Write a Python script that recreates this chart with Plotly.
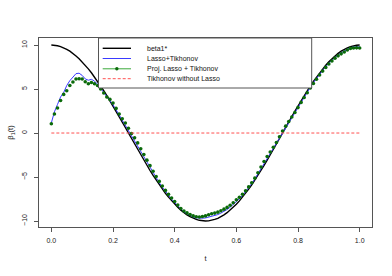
import plotly.graph_objects as go

t = [round(i / 100, 2) for i in range(101)]

beta_true = [10.00, 9.98, 9.92, 9.82, 9.69, 9.51, 9.30, 9.05, 8.76, 8.44,
             8.09, 7.71, 7.29, 6.85, 6.37, 5.88, 5.36, 4.82, 4.26, 3.68,
             3.09, 2.49, 1.87, 1.25, 0.63, 0.00, -0.63, -1.25, -1.87, -2.49,
             -3.09, -3.68, -4.26, -4.82, -5.36, -5.88, -6.37, -6.85, -7.29, -7.71,
             -8.09, -8.44, -8.76, -9.05, -9.30, -9.51, -9.69, -9.82, -9.92, -9.98,
             -10.00, -9.98, -9.92, -9.82, -9.69, -9.51, -9.30, -9.05, -8.76, -8.44,
             -8.09, -7.71, -7.29, -6.85, -6.37, -5.88, -5.36, -4.82, -4.26, -3.68,
             -3.09, -2.49, -1.87, -1.25, -0.63, 0.00, 0.63, 1.25, 1.87, 2.49,
             3.09, 3.68, 4.26, 4.82, 5.36, 5.88, 6.37, 6.85, 7.29, 7.71,
             8.09, 8.44, 8.76, 9.05, 9.30, 9.51, 9.69, 9.82, 9.92, 9.98, 10.00]

lasso_tik = [1.15, 2.40, 3.25, 4.10, 4.60, 5.40, 5.95, 6.40, 6.75, 6.80,
             6.55, 6.15, 6.00, 6.10, 5.90, 5.55, 5.10, 4.65, 4.15, 3.70,
             3.20, 2.65, 2.05, 1.50, 0.95, 0.35, -0.25, -0.85, -1.45, -2.07,
             -2.70, -3.32, -3.93, -4.54, -5.11, -5.65, -6.16, -6.65, -7.10, -7.51,
             -7.91, -8.29, -8.65, -8.94, -9.17, -9.36, -9.53, -9.64, -9.69, -9.68,
             -9.65, -9.56, -9.47, -9.39, -9.27, -9.10, -8.91, -8.69, -8.43, -8.13,
             -7.79, -7.47, -7.09, -6.68, -6.22, -5.74, -5.22, -4.64, -4.02, -3.41,
             -2.84, -2.29, -1.72, -1.14, -0.51, 0.13, 0.72, 1.28, 1.84, 2.40,
             2.97, 3.56, 4.13, 4.67, 5.21, 5.73, 6.22, 6.70, 7.14, 7.56,
             7.94, 8.29, 8.61, 8.88, 9.12, 9.33, 9.54, 9.70, 9.77, 9.80, 9.80]

proj_lasso_tik = [1.06, 2.16, 2.84, 3.70, 4.39, 4.80, 5.41, 5.80, 6.14, 6.17,
                  6.14, 5.83, 5.60, 5.75, 5.60, 5.41, 5.00, 4.55, 4.10, 3.82,
                  3.40, 2.80, 2.16, 1.63, 1.14, 0.55, -0.05, -0.55, -1.12, -1.79,
                  -2.44, -3.08, -3.71, -4.35, -4.94, -5.50, -6.02, -6.52, -6.97, -7.38,
                  -7.79, -8.19, -8.58, -8.87, -9.08, -9.26, -9.42, -9.52, -9.54, -9.48,
                  -9.42, -9.28, -9.17, -9.10, -8.99, -8.83, -8.65, -8.45, -8.21, -7.92,
                  -7.59, -7.31, -6.96, -6.57, -6.12, -5.65, -5.13, -4.52, -3.86, -3.23,
                  -2.67, -2.16, -1.62, -1.07, -0.43, 0.22, 0.78, 1.30, 1.82, 2.34,
                  2.89, 3.48, 4.04, 4.57, 5.11, 5.63, 6.12, 6.60, 7.04, 7.46,
                  7.84, 8.19, 8.51, 8.77, 9.00, 9.21, 9.44, 9.62, 9.67, 9.68, 9.66]

tik_t = [0.0, 1.0]
tik_only = [0.0, 0.0]

legend_labels = ["beta1*", "Lasso+Tikhonov", "Proj. Lasso + Tikhonov", "Tikhonov without Lasso"]
x_ticks = [0.0, 0.2, 0.4, 0.6, 0.8, 1.0]
y_ticks = [-10, -5, 0, 5, 10]

C_BLACK = "#000000"
C_BLUE = "#3a3aff"
C_GREEN_LINE = "#3aa83a"
C_GREEN_PT = "#0a6a0a"
C_RED = "#ff5050"
FONT = "Liberation Sans, Arial"

fig = go.Figure()
fig.add_trace(go.Scatter(x=t, y=beta_true, mode="lines",
                         line=dict(color=C_BLACK, width=1.4), showlegend=False))
fig.add_trace(go.Scatter(x=t, y=lasso_tik, mode="lines",
                         line=dict(color=C_BLUE, width=1), showlegend=False))
fig.add_trace(go.Scatter(x=t, y=proj_lasso_tik, mode="markers",
                         marker=dict(color=C_GREEN_PT, size=3.6, line=dict(width=0)),
                         showlegend=False))
fig.add_trace(go.Scatter(x=tik_t, y=tik_only, mode="lines",
                         line=dict(color=C_RED, width=1, dash="3px,2px"), showlegend=False))

# plot area in pixels
W, H = 392, 276
L, R, T, B = 39, 20, 38, 49
pw, ph = W - L - R, H - T - B

def px(xp):
    return (xp - L) / pw

def py(yp):
    return (H - B - yp) / ph

shapes = []
annotations = []
# legend box
shapes.append(dict(type="rect", xref="paper", yref="paper",
                   x0=px(98.5), x1=px(311.7), y0=py(88), y1=py(38),
                   line=dict(color="#555555", width=1), fillcolor="white", layer="above"))
rows = [48.3, 58.5, 68.8, 78.7]
styles = [dict(color=C_BLACK, width=1.4), dict(color=C_BLUE, width=1),
          dict(color=C_GREEN_LINE, width=1), dict(color=C_RED, width=1, dash="3px,2px")]
for yy, st, lab in zip(rows, styles, legend_labels):
    shapes.append(dict(type="line", xref="paper", yref="paper",
                       x0=px(102.7), x1=px(131), y0=py(yy), y1=py(yy),
                       line=st, layer="above"))
    annotations.append(dict(xref="paper", yref="paper", x=px(145), y=py(yy),
                            text=lab, showarrow=False, xanchor="left", yanchor="middle",
                            font=dict(family=FONT, size=7, color="#111")))
cx, cy, r = 116.85, rows[2], 1.7
shapes.append(dict(type="circle", xref="paper", yref="paper",
                   x0=px(cx - r), x1=px(cx + r), y0=py(cy + r), y1=py(cy - r),
                   line=dict(width=0), fillcolor=C_GREEN_PT, layer="above"))

axis_common = dict(showline=True, mirror=True, linecolor="#555555", linewidth=1,
                   ticks="outside", ticklen=4, tickcolor="#555555", tickwidth=1,
                   showgrid=False, zeroline=False, automargin=False,
                   tickfont=dict(family=FONT, size=7, color="#222"))

fig.update_layout(
    width=W, height=H,
    margin=dict(l=L, r=R, t=T, b=B),
    plot_bgcolor="white", paper_bgcolor="white",
    shapes=shapes, annotations=annotations,
    xaxis=dict(range=[-0.04, 1.04], tickvals=x_ticks, tickformat=".1f",
               title=dict(text="t", font=dict(family=FONT, size=7.5, color="#222"),
                          standoff=12),
               ticklabelstandoff=3, **axis_common),
    yaxis=dict(range=[-10.68, 10.8], tickvals=y_ticks, tickangle=-90,
               title=dict(text="β<sub>1</sub>(t)", font=dict(family=FONT, size=7.5, color="#222"),
                          standoff=6),
               ticklabelstandoff=4, **axis_common),
)

fig.write_html("out.html", config={"displayModeBar": False},
               post_script="document.body.style.margin='0px';document.body.style.overflow='hidden';")
